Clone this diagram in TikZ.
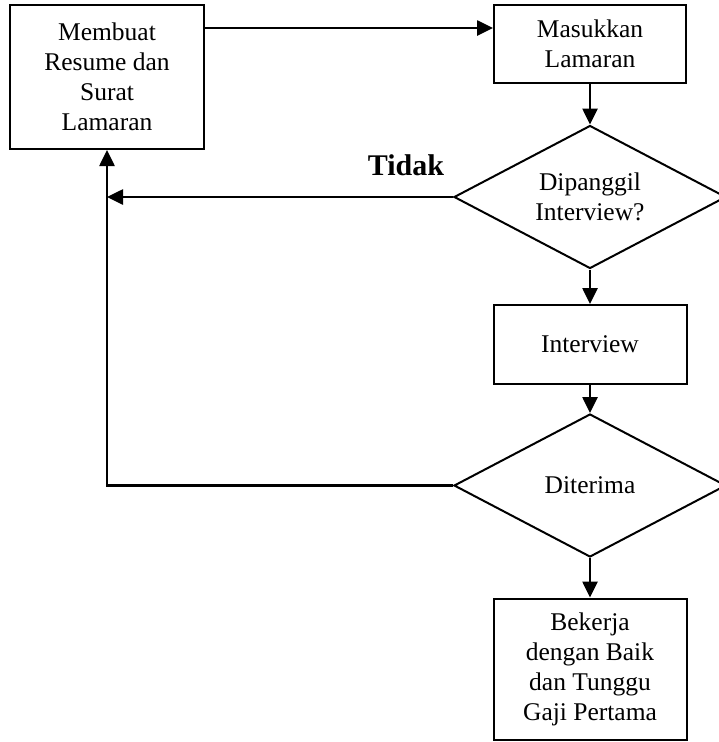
\documentclass[tikz,border=0pt]{standalone}
\usepackage{fontspec}
\setmainfont{Liberation Serif}
\usetikzlibrary{shapes.geometric,arrows.meta,calc}
\begin{document}
\begin{tikzpicture}[x=1pt,y=-1pt,
  boxnode/.style={draw,line width=2pt,inner sep=0pt,align=center,
    font=\fontsize{25.5}{30}\selectfont},
  decision/.style={draw,diamond,line width=2pt,inner sep=0pt,align=center,
    minimum width=272pt,minimum height=143pt,aspect=1.9,
    font=\fontsize{25.5}{30}\selectfont},
  conn/.style={line width=2.6pt,-{Triangle[length=16pt,width=15pt]}}]
\useasboundingbox (0,0) rectangle (719,742);
\node[boxnode,minimum width=194pt,minimum height=144pt] (b1) at (107,77) {Membuat\\Resume dan\\Surat\\Lamaran};
\node[boxnode,minimum width=192pt,minimum height=78pt] (b2) at (590,44) {Masukkan\\Lamaran};
\node[decision] (d1) at (590,197) {Dipanggil\\Interview?};
\node[boxnode,minimum width=193pt,minimum height=79pt] (b3) at (590,344.5) {Interview};
\node[decision] (d2) at (590,485.5) {Diterima};
\node[boxnode,minimum width=193pt,minimum height=141pt] (b4) at (590,669) {Bekerja\\dengan Baik\\dan Tunggu\\Gaji Pertama};
\node[font=\fontsize{30}{32}\selectfont\bfseries] (tidak) at (406,165) {Tidak};
\draw[conn] ($(b1.north east)+(0,24)$) -- ($(b2.north west)+(0,24)$);
\draw[conn] (b2.south) -- (d1.north);
\draw[conn] (d1.south) -- (b3.north);
\draw[conn] (b3.south) -- (d2.north);
\draw[conn] (d2.south) -- (b4.north);
\draw[conn] (d1.west) -- (d1.west -| b1.south);
\draw[conn] (d2.west) -- (d2.west -| b1.south) -- (b1.south);
\end{tikzpicture}
\end{document}
